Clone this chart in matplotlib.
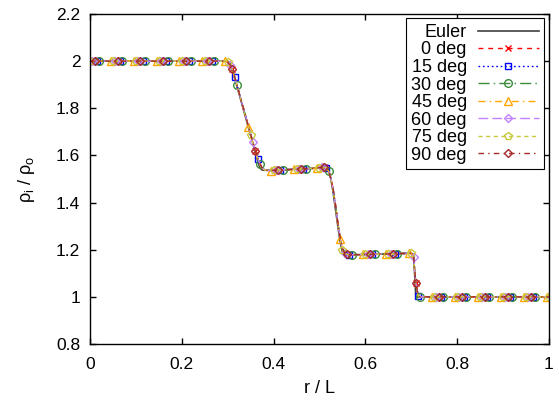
import numpy as np
import matplotlib
matplotlib.use('Agg')
import matplotlib.pyplot as plt

plt.rcParams['font.family'] = 'Liberation Sans'
plt.rcParams['font.size'] = 13
plt.rcParams['mathtext.fontset'] = 'custom'
plt.rcParams['mathtext.rm'] = 'Liberation Sans'
plt.rcParams['mathtext.it'] = 'Liberation Sans'

# radial grid r/L (step 0.005)
r = np.round(np.arange(0, 1.0001, 0.005), 3)

# density ratio profiles, pieced together region by region
high = [2.0] * 60                      # r = 0.000 .. 0.295
mid = [1.537, 1.537, 1.538, 1.538, 1.539, 1.539, 1.540, 1.540, 1.541, 1.541, 1.542,
       1.542, 1.543, 1.543, 1.544, 1.544, 1.545, 1.545, 1.546, 1.547, 1.548, 1.549]
low = [1.179, 1.179, 1.179, 1.180, 1.180, 1.180, 1.180, 1.181, 1.181, 1.181, 1.181, 1.182,
       1.182, 1.182, 1.182, 1.183, 1.183, 1.183, 1.183, 1.184, 1.184, 1.184, 1.185, 1.185]
ambient = [1.0] * 55                   # r = 0.730 .. 1.000

euler_t1 = [2.0, 1.99, 1.965, 1.93, 1.895, 1.86, 1.825, 1.79, 1.755, 1.72,
            1.685, 1.65, 1.615, 1.58, 1.548, 1.538, 1.537, 1.537, 1.537, 1.537]
euler_t2 = [1.55, 1.55, 1.54, 1.50, 1.44, 1.37, 1.30, 1.235, 1.19, 1.18, 1.179, 1.179, 1.179, 1.179]
euler_t3 = [1.185, 1.18, 1.0, 1.0, 1.0, 1.0]

sim_t1 = [1.995, 1.985, 1.965, 1.935, 1.90, 1.865, 1.83, 1.795, 1.76, 1.725,
          1.69, 1.655, 1.62, 1.59, 1.565, 1.548, 1.54, 1.537, 1.536, 1.536]
sim_t2 = [1.55, 1.548, 1.535, 1.50, 1.455, 1.39, 1.315, 1.25, 1.205, 1.186, 1.18, 1.179, 1.179, 1.179]
sim_t3 = [1.184, 1.17, 1.06, 1.005, 1.0, 1.0]

sim_t1b = [1.996, 1.986, 1.962, 1.932, 1.898, 1.862, 1.828, 1.792, 1.758, 1.722,
           1.688, 1.652, 1.618, 1.586, 1.56, 1.545, 1.539, 1.537, 1.536, 1.536]
sim_t2b = [1.55, 1.547, 1.532, 1.497, 1.45, 1.385, 1.31, 1.245, 1.2, 1.184, 1.18, 1.179, 1.179, 1.179]
sim_t3b = [1.184, 1.165, 1.055, 1.004, 1.0, 1.0]

rho_euler = high + euler_t1 + mid + euler_t2 + low + euler_t3 + ambient
rho_a = high + sim_t1 + mid + sim_t2 + low + sim_t3 + ambient
rho_b = high + sim_t1b + mid + sim_t2b + low + sim_t3b + ambient

angles = ['0 deg', '15 deg', '30 deg', '45 deg', '60 deg', '75 deg', '90 deg']
profiles = [rho_a, rho_b, rho_a, rho_b, rho_a, rho_b, rho_a]
colors = ['#ff0000', '#0000ff', '#3c8c3c', '#ffa500', '#c080ff', '#c8c83c', '#a52a2a']
markers = ['x', 's', 'o', '^', 'D', 'p', 'D']
msizes = [5, 5, 5.5, 5.5, 4.5, 5.5, 4.5]
dashes = [(0, (3.5, 3.5)), (0, (1.2, 2)), (0, (8, 3, 1, 3)), (0, (5, 3, 1, 3)),
          (0, (7, 3)), (0, (3, 2.5)), (0, (4, 3, 1, 3))]
offsets = [2, 3, 4, 9, 1, 0, 2]

fig = plt.figure(figsize=(5.59, 4.03), dpi=100)
ax = fig.add_axes([0.161, 0.1464, 0.821, 0.8189])

ax.plot(r, rho_euler, color='#404040', lw=1.2, label='Euler')
for lab, y, c, m, ms, ls, off in zip(angles, profiles, colors, markers, msizes, dashes, offsets):
    ax.plot(r, y, color=c, lw=1.0, ls=ls, marker=m, ms=ms, mfc='none', mec=c, mew=1.0,
            markevery=(off, 10), label=lab)

ax.set_xlim(0, 1)
ax.set_ylim(0.8, 2.2)
ax.set_xticks([0, 0.2, 0.4, 0.6, 0.8, 1])
ax.set_xticklabels(['0', '0.2', '0.4', '0.6', '0.8', '1'])
ax.set_yticks([0.8, 1.0, 1.2, 1.4, 1.6, 1.8, 2.0, 2.2])
ax.set_yticklabels(['0.8', '1', '1.2', '1.4', '1.6', '1.8', '2', '2.2'])
ax.tick_params(direction='in', top=True, right=True, length=4, width=1, pad=7,
               labelsize=12.5)
ax.tick_params(axis='x', pad=9)
for s in ax.spines.values():
    s.set_linewidth(1.0)

ax.set_xlabel('r / L', labelpad=6)
ax.set_ylabel(r'$\rho_{i}$ / $\rho_{o}$', labelpad=14)

leg = ax.legend(loc='upper right', markerfirst=False, numpoints=1, handlelength=3.4,
                labelspacing=0.03, borderaxespad=0.25, fancybox=False, framealpha=1,
                edgecolor='black', borderpad=0.3, handletextpad=0.6)
leg.get_frame().set_linewidth(0.8)

fig.savefig('out.png', dpi=100)
